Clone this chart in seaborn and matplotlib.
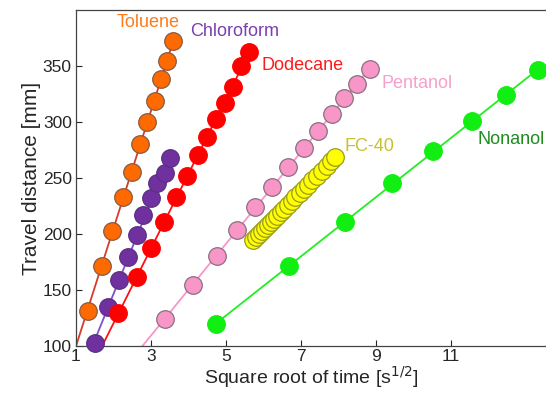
import numpy as np
import pandas as pd
import seaborn as sns
import matplotlib.pyplot as plt

sns.set_style('ticks')
plt.rcParams['font.family'] = ['Liberation Sans', 'DejaVu Sans']

# data (x = sqrt(t) [s^1/2], y = travel distance [mm])
toluene_x = [1.31, 1.69, 1.97, 2.24, 2.49, 2.71, 2.90, 3.11, 3.26, 3.43, 3.59]
toluene_y = [131.5, 171.4, 202.9, 232.6, 255.6, 280.1, 300.3, 319.0, 338.1, 354.5, 372.6]

chloroform_x = [1.51, 1.86, 2.15, 2.39, 2.62, 2.79, 2.99, 3.17, 3.37, 3.51]
chloroform_y = [102.4, 135.1, 158.9, 179.2, 199.1, 217.0, 232.1, 245.1, 254.7, 268.1]

dodecane_x = [2.13, 2.62, 3.00, 3.35, 3.67, 3.97, 4.25, 4.49, 4.73, 4.96, 5.19, 5.41, 5.61]
dodecane_y = [129.2, 161.3, 187.2, 210.4, 233.0, 251.8, 270.5, 286.9, 302.4, 317.4, 331.1, 350.0, 362.2]

pentanol_x = [3.37, 4.11, 4.75, 5.29, 5.77, 6.22, 6.66, 7.08, 7.46, 7.83, 8.15, 8.49, 8.84]
pentanol_y = [123.8, 154.5, 180.4, 203.3, 224.1, 242.2, 260.1, 276.5, 292.2, 307.1, 321.2, 333.9, 347.1]

fc40_x = [5.73, 5.80, 5.88, 5.96, 6.04, 6.12, 6.20, 6.28, 6.37, 6.46, 6.55, 6.65,
          6.75, 6.85, 6.96, 7.07, 7.18, 7.30, 7.42, 7.55, 7.68, 7.80, 7.91]
fc40_y = [194.6, 197.0, 199.8, 202.5, 205.2, 208.0, 210.7, 213.4, 216.5, 219.6, 222.6, 226.0,
          229.4, 232.8, 236.6, 240.3, 244.1, 248.1, 252.2, 256.6, 261.1, 265.2, 269.0]

nonanol_x = [4.73, 6.69, 8.17, 9.43, 10.53, 11.55, 12.47, 13.33]
nonanol_y = [119.6, 171.4, 211.0, 245.3, 274.4, 300.9, 324.1, 346.4]

series = {
    'Toluene': (toluene_x, toluene_y),
    'Chloroform': (chloroform_x, chloroform_y),
    'Dodecane': (dodecane_x, dodecane_y),
    'Pentanol': (pentanol_x, pentanol_y),
    'FC-40': (fc40_x, fc40_y),
    'Nonanol': (nonanol_x, nonanol_y),
}

face = {'Toluene': '#FF6A00', 'Chloroform': '#7030A0', 'Dodecane': '#FF0000',
        'Pentanol': '#F896C8', 'FC-40': '#FFFF00', 'Nonanol': '#11EE11'}
edge = {'Toluene': '#8a5a40', 'Chloroform': '#5a3080', 'Dodecane': '#FF0000',
        'Pentanol': '#8a7080', 'FC-40': '#9a9a20', 'Nonanol': '#11EE11'}
linec = {'Toluene': '#D83A2A', 'Chloroform': '#8050C8', 'Dodecane': '#FF1010',
         'Pentanol': '#F896C8', 'Nonanol': '#22EE22'}
# where each fit line starts
line_start = {'Toluene': 0.9, 'Chloroform': 1.55, 'Dodecane': 1.5, 'Pentanol': 2.3, 'Nonanol': 4.73}

fig = plt.figure(figsize=(5.46, 3.93), dpi=100)
ax = fig.add_axes([76 / 546, 47 / 393, 470 / 546, 336 / 393])

for name, (xs, ys) in series.items():
    df = pd.DataFrame({'x': xs, 'y': ys})
    if name in linec:
        k, b = np.polyfit(xs, ys, 1)
        fx = np.array([line_start[name], xs[-1]])
        sns.lineplot(x=fx, y=k * fx + b, color=linec[name], lw=1.3, ax=ax, zorder=2)
    sns.scatterplot(data=df, x='x', y='y', s=160, color=face[name], edgecolor=edge[name],
                    linewidth=0.9, ax=ax, zorder=3, clip_on=False)

labels = [('Toluene', 2.08, 389, '#FF7A1A'), ('Chloroform', 4.04, 380.5, '#7B3FB0'),
          ('Dodecane', 5.95, 350, '#FF1A1A'), ('Pentanol', 9.15, 334.5, '#F8A0CC'),
          ('FC-40', 8.15, 278, '#C8C030'), ('Nonanol', 11.71, 284, '#1E8C1E')]
for txt, tx, ty, c in labels:
    ax.text(tx, ty, txt, color=c, fontsize=13, ha='left', va='center')

ax.set_xlim(1, 13.53)
ax.set_ylim(100, 400)
ax.set_xticks([1, 3, 5, 7, 9, 11])
ax.set_yticks([100, 150, 200, 250, 300, 350])
ax.tick_params(direction='in', length=4, labelsize=12.5, width=0.8)
ax.tick_params(axis='x', pad=2.5)
ax.tick_params(axis='y', pad=3)
ax.spines['right'].set_visible(False)
for s in ['left', 'bottom', 'top']:
    ax.spines[s].set_color('#444444')
    ax.spines[s].set_linewidth(0.9)
ax.set_xlabel('Square root of time [s$^{1/2}$]', fontsize=14, labelpad=0)
ax.set_ylabel('Travel distance [mm]', fontsize=15, labelpad=1)

fig.savefig('out.png', dpi=100)
